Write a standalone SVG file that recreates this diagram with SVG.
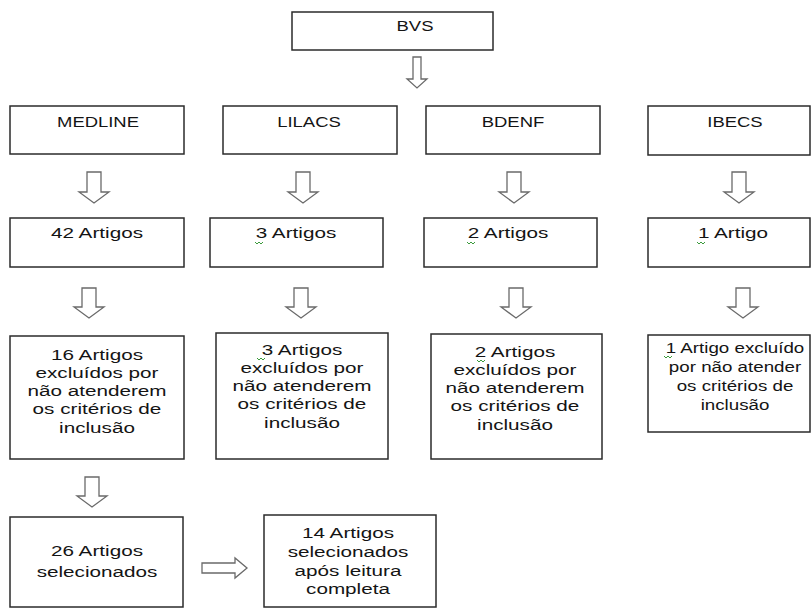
<svg xmlns="http://www.w3.org/2000/svg" width="811" height="610" viewBox="0 0 811 610">
<style>
.box{fill:#fff;stroke:#2b2b2b;stroke-width:1.5}
.t{font-family:"Liberation Sans",Arial,sans-serif;font-size:15px;fill:#141414;text-anchor:middle}
.arr{fill:#fff;stroke:#6a6a6a;stroke-width:1.3;stroke-linejoin:miter}
.sq{fill:none;stroke:#3a9a3a;stroke-width:1}
</style>
<rect width="811" height="610" fill="#fff"/>
<g id="connectors">
<path class="arr" d="M413,57 H421 V79 H427 L417,88 L407,79 H413 Z"/>
<path class="arr" d="M87,172 H101 V192 H109 L94,203 L79,192 H87 Z"/>
<path class="arr" d="M296,172 H310 V192 H318 L303,203 L288,192 H296 Z"/>
<path class="arr" d="M507,172 H521 V192 H529 L514,203 L499,192 H507 Z"/>
<path class="arr" d="M732,172 H746 V192 H754 L739,203 L724,192 H732 Z"/>
<path class="arr" d="M82,288 H96 V307 H104 L89,318 L74,307 H82 Z"/>
<path class="arr" d="M294,288 H308 V307 H316 L301,318 L286,307 H294 Z"/>
<path class="arr" d="M509,288 H523 V307 H531 L516,318 L501,307 H509 Z"/>
<path class="arr" d="M736,288 H750 V307 H758 L743,318 L728,307 H736 Z"/>
<path class="arr" d="M85,477 H99 V496 H107 L92,507 L77,496 H85 Z"/>
<path class="arr" d="M202,563 H235 V558 L247,568 L235,578 V573 H202 Z"/>
</g>
<g id="bvs">
<rect class="box" x="292" y="12" width="201" height="38"/>
<text class="t" transform="translate(415,0) scale(1.23,1)" y="31">BVS</text>
</g>
<g id="medline">
<rect class="box" x="10" y="106" width="174" height="48"/>
<text class="t" transform="translate(98,0) scale(1.23,1)" y="127">MEDLINE</text>
</g>
<g id="lilacs">
<rect class="box" x="223" y="106" width="174" height="48"/>
<text class="t" transform="translate(309,0) scale(1.23,1)" y="127">LILACS</text>
</g>
<g id="bdenf">
<rect class="box" x="426" y="106" width="174" height="48"/>
<text class="t" transform="translate(513,0) scale(1.23,1)" y="127">BDENF</text>
</g>
<g id="ibecs">
<rect class="box" x="648" y="106" width="162" height="49"/>
<text class="t" transform="translate(735,0) scale(1.23,1)" y="127">IBECS</text>
</g>
<g id="medline-42">
<rect class="box" x="10" y="218" width="174" height="49"/>
<text class="t" transform="translate(97,0) scale(1.38,1)" y="238">42 Artigos</text>
</g>
<g id="lilacs-3">
<rect class="box" x="210" y="218" width="173" height="49"/>
<text class="t" transform="translate(296,0) scale(1.38,1)" y="238">3 Artigos</text>
<path class="sq" d="M255,242 l2,2 l2,-2 l2,2 l2,-2"/>
</g>
<g id="bdenf-2">
<rect class="box" x="424" y="218" width="173" height="49"/>
<text class="t" transform="translate(508,0) scale(1.38,1)" y="238">2 Artigos</text>
<path class="sq" d="M467,242 l2,2 l2,-2 l2,2 l2,-2"/>
</g>
<g id="ibecs-1">
<rect class="box" x="648" y="218" width="162" height="49"/>
<text class="t" transform="translate(733,0) scale(1.38,1)" y="238">1 Artigo</text>
<path class="sq" d="M697,242 l2,2 l2,-2 l2,2 l2,-2"/>
</g>
<g id="medline-excl">
<rect class="box" x="10" y="336" width="174" height="123"/>
<text class="t" transform="translate(97,0) scale(1.38,1)"><tspan x="0" y="360">16 Artigos</tspan><tspan x="0" y="378">excluídos por</tspan><tspan x="0" y="396">não atenderem</tspan><tspan x="0" y="414">os critérios de</tspan><tspan x="0" y="433">inclusão</tspan></text>
</g>
<g id="lilacs-excl">
<rect class="box" x="216" y="333" width="172" height="126"/>
<text class="t" transform="translate(302,0) scale(1.38,1)"><tspan x="0" y="355">3 Artigos</tspan><tspan x="0" y="373">excluídos por</tspan><tspan x="0" y="391">não atenderem</tspan><tspan x="0" y="409">os critérios de</tspan><tspan x="0" y="428">inclusão</tspan></text>
<path class="sq" d="M257,358 l2,2 l2,-2 l2,2 l2,-2"/>
</g>
<g id="bdenf-excl">
<rect class="box" x="431" y="334" width="171" height="125"/>
<text class="t" transform="translate(515,0) scale(1.38,1)"><tspan x="0" y="357">2 Artigos</tspan><tspan x="0" y="375">excluídos por</tspan><tspan x="0" y="393">não atenderem</tspan><tspan x="0" y="411">os critérios de</tspan><tspan x="0" y="430">inclusão</tspan></text>
<path class="sq" d="M477,360 l2,2 l2,-2 l2,2 l2,-2"/>
</g>
<g id="ibecs-excl">
<rect class="box" x="648" y="335" width="162" height="97"/>
<text class="t" transform="translate(735,0) scale(1.25,1)"><tspan x="0" y="353">1 Artigo excluído</tspan><tspan x="0" y="372">por não atender</tspan><tspan x="0" y="391">os critérios de</tspan><tspan x="0" y="410">inclusão</tspan></text>
<path class="sq" d="M664,356 l2,2 l2,-2 l2,2 l2,-2"/>
</g>
<g id="selected-26">
<rect class="box" x="10" y="517" width="173" height="90"/>
<text class="t" transform="translate(97,0) scale(1.38,1)"><tspan x="0" y="556">26 Artigos</tspan><tspan x="0" y="577">selecionados</tspan></text>
</g>
<g id="selected-14">
<rect class="box" x="264" y="515" width="172" height="92"/>
<text class="t" transform="translate(348,0) scale(1.38,1)"><tspan x="0" y="538">14 Artigos</tspan><tspan x="0" y="557">selecionados</tspan><tspan x="0" y="576">após leitura</tspan><tspan x="0" y="594">completa</tspan></text>
</g>
</svg>
